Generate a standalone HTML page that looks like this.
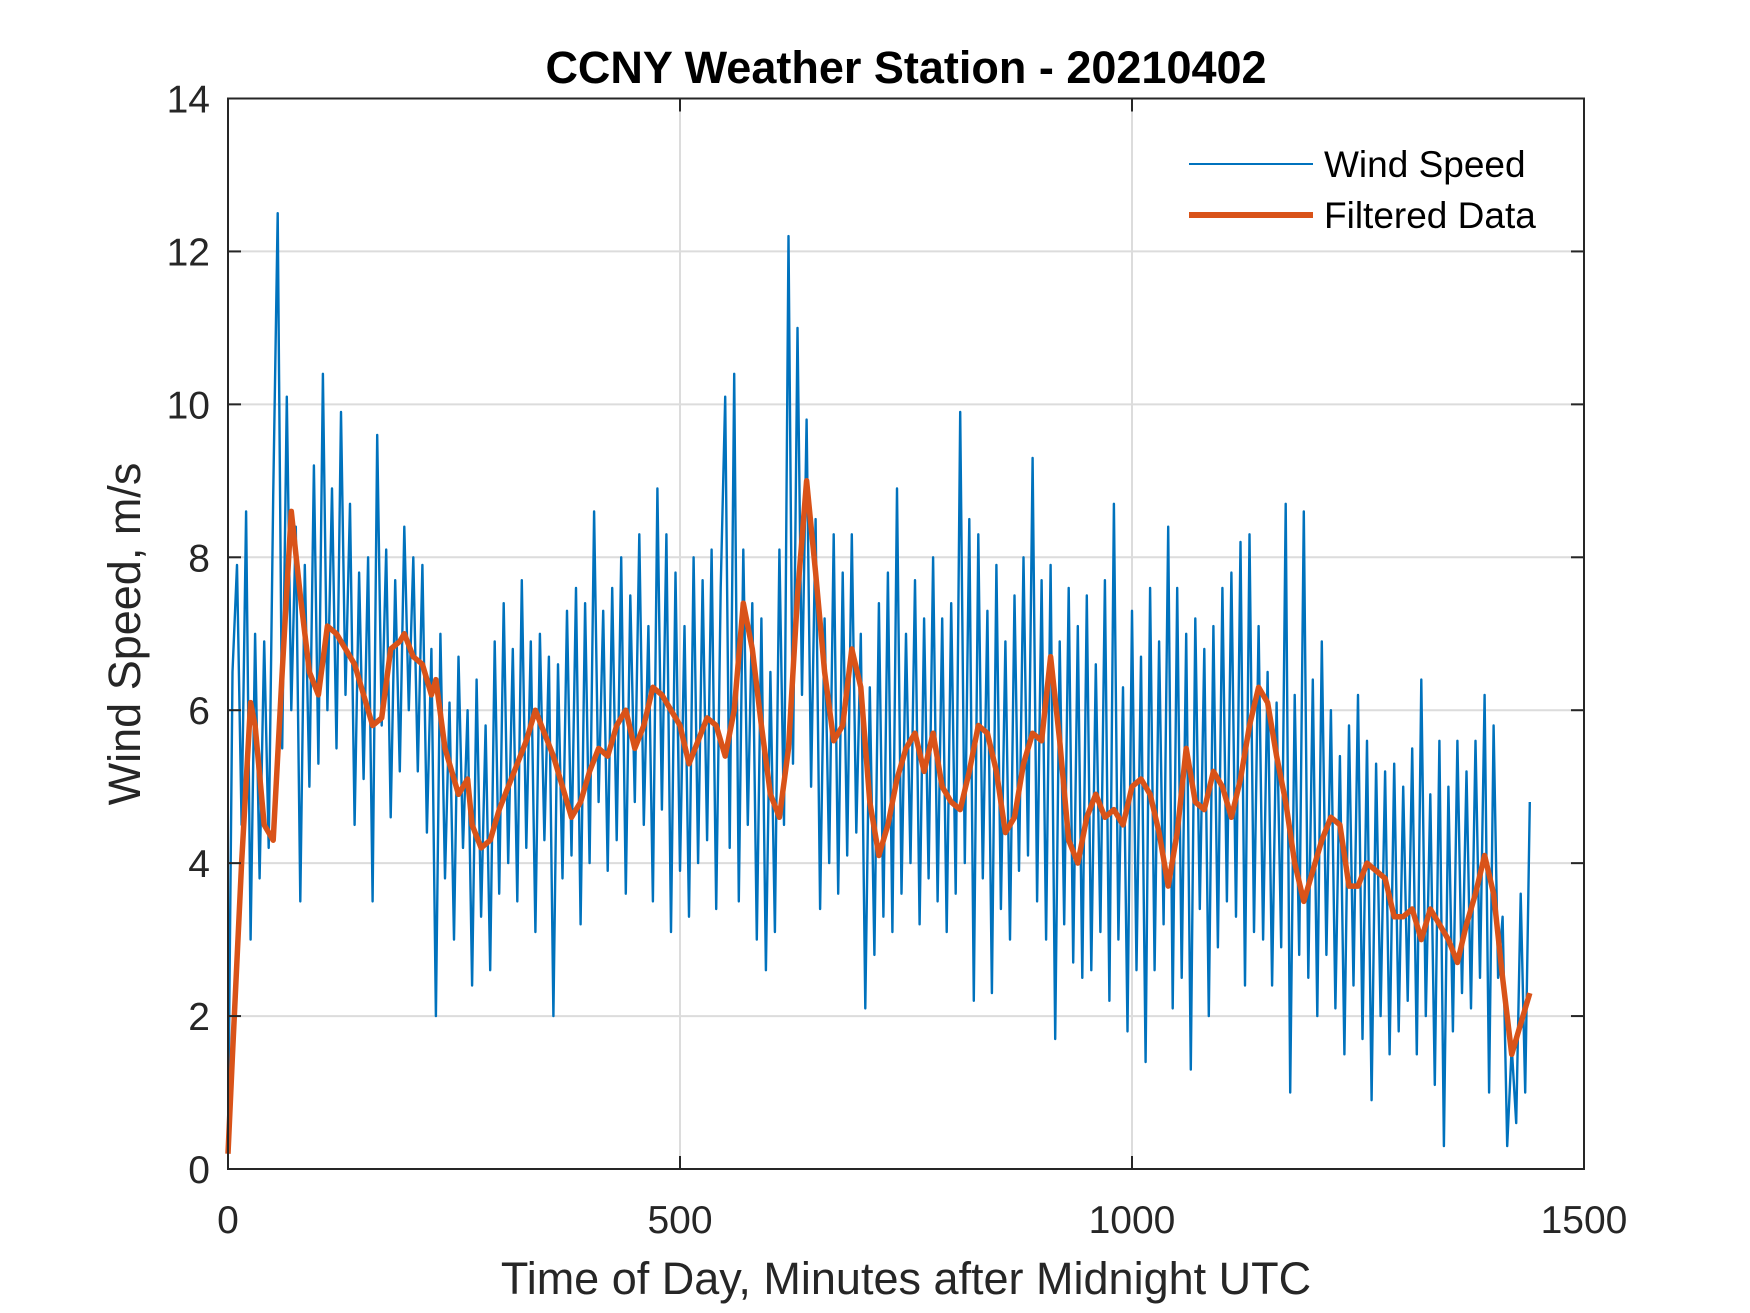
<!DOCTYPE html>
<html><head><meta charset="utf-8"><style>
html,body{margin:0;padding:0;background:#fff;}
svg{display:block;font-family:"Liberation Sans",Arial,sans-serif;}
</style></head><body>
<svg id="chart" width="1750" height="1313" viewBox="0 0 1750 1313">
<rect width="1750" height="1313" fill="#fff"/>
<g id="grid"></g>
<g id="series"></g>
<rect x="228" y="98.5" width="1356" height="1070.5" fill="none" stroke="#262626" stroke-width="2"/>
<g id="ticks"></g>
<text x="906" y="83" text-anchor="middle" font-size="45" font-weight="bold" fill="#000">CCNY Weather Station - 20210402</text>
<text x="906" y="1294" text-anchor="middle" font-size="45" fill="#262626">Time of Day, Minutes after Midnight UTC</text>
<text transform="translate(140,634) rotate(-90)" text-anchor="middle" font-size="45" fill="#262626">Wind Speed, m/s</text>
<g>
<line x1="1189" y1="164" x2="1313" y2="164" stroke="#0072BD" stroke-width="2"/>
<text x="1324" y="177" font-size="37" fill="#000">Wind Speed</text>
<line x1="1189" y1="215" x2="1313" y2="215" stroke="#D95319" stroke-width="6"/>
<text x="1324" y="228" font-size="37" fill="#000">Filtered Data</text>
</g>
</svg>
<script>
const xTicks=[0,500,1000,1500];
const yTicks=[0,2,4,6,8,10,12,14];
const rawStep=5;
const rawValues=[0.3,6.5,7.9,4.5,8.6,3.0,7.0,3.8,6.9,4.2,
8.8,12.5,5.5,10.1,6.0,8.4,3.5,7.9,5.0,9.2,
5.3,10.4,6.0,8.9,5.5,9.9,6.2,8.7,4.5,7.8,
5.1,8.0,3.5,9.6,5.8,8.1,4.6,7.7,5.2,8.4,
6.0,8.0,5.2,7.9,4.4,6.8,2.0,7.0,3.8,6.1,
3.0,6.7,4.2,6.0,2.4,6.4,3.3,5.8,2.6,6.9,
3.6,7.4,4.0,6.8,3.5,7.7,4.2,6.9,3.1,7.0,
4.3,6.7,2.0,6.6,3.8,7.3,4.1,7.6,3.2,7.4,
4.0,8.6,4.8,7.3,3.9,7.6,4.3,8.0,3.6,7.5,
4.8,8.3,4.5,7.1,3.5,8.9,4.7,8.3,3.1,7.8,
3.9,7.1,3.3,8.0,4.0,7.7,4.3,8.1,3.4,7.6,
10.1,4.2,10.4,3.5,8.1,4.5,7.4,3.0,7.2,2.6,
6.5,3.1,8.1,4.5,12.2,5.3,11.0,6.2,9.8,5.0,
8.5,3.4,7.2,4.0,8.3,3.6,7.8,4.1,8.3,4.4,
7.0,2.1,6.3,2.8,7.4,3.3,7.8,3.1,8.9,3.6,
7.0,4.0,7.7,3.2,7.2,3.8,8.0,3.5,7.2,3.1,
7.4,3.6,9.9,4.0,8.5,2.2,8.3,3.8,7.3,2.3,
7.9,3.4,6.9,3.0,7.5,3.9,8.0,4.1,9.3,3.5,
7.7,3.0,7.9,1.7,6.9,3.2,7.6,2.7,7.1,2.5,
7.5,2.6,6.6,3.1,7.7,2.2,8.7,3.0,6.3,1.8,
7.3,2.6,6.7,1.4,7.6,2.6,6.9,3.2,8.4,2.1,
7.6,2.5,7.0,1.3,7.2,3.4,6.8,2.0,7.1,2.9,
7.6,3.5,7.8,3.3,8.2,2.4,8.3,3.1,7.1,3.0,
6.5,2.4,6.1,2.9,8.7,1.0,6.2,2.8,8.6,2.5,
6.4,2.0,6.9,2.8,6.0,2.1,5.4,1.5,5.8,2.4,
6.2,1.7,5.6,0.9,5.3,2.0,5.2,1.5,5.3,1.8,
5.0,2.2,5.5,1.5,6.4,2.0,4.9,1.1,5.6,0.3,
5.0,1.8,5.6,2.3,5.2,2.1,5.6,2.5,6.2,1.0,
5.8,2.5,3.3,0.3,1.6,0.6,3.6,1.0,4.8];
const filtTimes=[0,5,15,25,30,40,50,60,70,80,90,100,110,120,130,140,150,160,170,180,190,195,205,215,225,230,240,250,255,265,270,280,290,300,310,320,330,340,350,360,370,380,390,400,410,420,430,440,450,460,470,480,490,500,510,520,530,540,550,560,570,580,590,600,610,620,630,640,650,660,670,680,690,700,710,720,730,740,750,760,770,780,790,800,810,820,830,840,850,860,870,880,890,900,910,920,930,940,950,960,970,980,990,1000,1010,1020,1030,1040,1050,1060,1070,1080,1090,1100,1110,1120,1130,1140,1150,1160,1170,1180,1190,1200,1210,1220,1230,1240,1250,1260,1270,1280,1290,1300,1310,1320,1330,1340,1350,1360,1370,1380,1390,1400,1410,1420,1430,1440];
const filtValues=[0.2,1.5,4.0,6.1,5.8,4.5,4.3,6.5,8.6,7.5,6.5,6.2,7.1,7.0,6.8,6.6,6.2,5.8,5.9,6.8,6.9,7.0,6.7,6.6,6.2,6.4,5.5,5.1,4.9,5.1,4.5,4.2,4.3,4.7,5.0,5.3,5.6,6.0,5.7,5.4,5.0,4.6,4.8,5.2,5.5,5.4,5.8,6.0,5.5,5.8,6.3,6.2,6.0,5.8,5.3,5.6,5.9,5.8,5.4,6.0,7.4,6.8,5.8,4.9,4.6,5.5,7.5,9.0,7.8,6.5,5.6,5.8,6.8,6.3,4.8,4.1,4.5,5.1,5.5,5.7,5.2,5.7,5.0,4.8,4.7,5.2,5.8,5.7,5.2,4.4,4.6,5.3,5.7,5.6,6.7,5.6,4.3,4.0,4.6,4.9,4.6,4.7,4.5,5.0,5.1,4.9,4.4,3.7,4.4,5.5,4.8,4.7,5.2,5.0,4.6,5.1,5.8,6.3,6.1,5.4,4.8,4.0,3.5,3.9,4.3,4.6,4.5,3.7,3.7,4.0,3.9,3.8,3.3,3.3,3.4,3.0,3.4,3.2,3.0,2.7,3.2,3.6,4.1,3.6,2.5,1.5,1.9,2.3];

const X0=228,X1=1584,Y0=1169,Y1=98.5;
function sx(t){return X0+(t-0)/(1500-0)*(X1-X0);}
function sy(v){return Y0-(v-0)/(14-0)*(Y0-Y1);}
const NS='http://www.w3.org/2000/svg';
const grid=document.getElementById('grid'),ticks=document.getElementById('ticks'),series=document.getElementById('series');
function mk(tag,attrs,parent){const e=document.createElementNS(NS,tag);for(const k in attrs)e.setAttribute(k,attrs[k]);parent.appendChild(e);return e;}
xTicks.forEach(t=>{
  const x=sx(t);
  if(t>0&&t<1500){const g=mk('line',{x1:x,x2:x,y1:Y1,y2:Y0,stroke:'#dcdcdc','stroke-width':2},grid);
  
  }
  const a=mk('line',{x1:x,x2:x,y1:Y0,y2:Y0-13,stroke:'#262626','stroke-width':2},ticks);
  
  
  const b=mk('line',{x1:x,x2:x,y1:Y1,y2:Y1+13,stroke:'#262626','stroke-width':2},ticks);
  
  
  const l=mk('text',{x:x,y:1233,'text-anchor':'middle','font-size':39,fill:'#262626'},ticks);
  l.textContent=t;
  
  
});
yTicks.forEach(v=>{
  const y=sy(v);
  if(v>0&&v<14){const g=mk('line',{x1:X0,x2:X1,y1:y,y2:y,stroke:'#dcdcdc','stroke-width':2},grid);
  
  }
  const a=mk('line',{x1:X0,x2:X0+13,y1:y,y2:y,stroke:'#262626','stroke-width':2},ticks);
  
  
  const b=mk('line',{x1:X1,x2:X1-13,y1:y,y2:y,stroke:'#262626','stroke-width':2},ticks);
  
  
  const l=mk('text',{x:210,y:y+14,'text-anchor':'end','font-size':39,fill:'#262626'},ticks);
  l.textContent=v;
  
  
});
const rawPts=rawValues.map((v,i)=>sx(i*rawStep).toFixed(1)+','+sy(v).toFixed(1)).join(' ');
const raw=mk('polyline',{points:rawPts,fill:'none',stroke:'#0072BD','stroke-width':2.4,'stroke-linejoin':'round'},series);


const fPts=filtValues.map((v,i)=>sx(filtTimes[i]).toFixed(1)+','+sy(v).toFixed(1)).join(' ');
const filt=mk('polyline',{points:fPts,fill:'none',stroke:'#D95319','stroke-width':5.5,'stroke-linejoin':'round'},series);


</script>
</body></html>
